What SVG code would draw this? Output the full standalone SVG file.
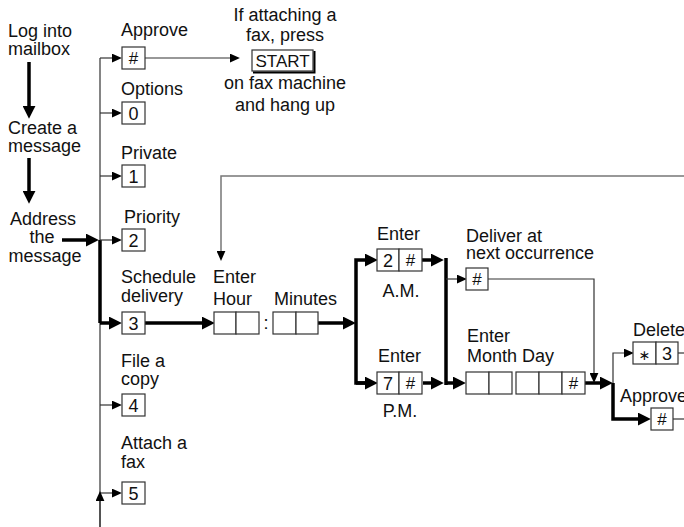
<svg xmlns="http://www.w3.org/2000/svg" width="684" height="527" viewBox="0 0 684 527">
<style>
.t{font-family:"Liberation Sans",Arial,sans-serif;font-size:18px;fill:#111}
.c{text-anchor:middle}
.k{font-family:"Liberation Sans",Arial,sans-serif;font-size:18px;fill:#111;text-anchor:middle}
.h{font-size:17px}
.box{fill:#fff;stroke:#333;stroke-width:1.2}
.thin{fill:none;stroke:#333;stroke-width:1.2}
.gray{fill:none;stroke:#777;stroke-width:1.5}
.thick{fill:none;stroke:#000;stroke-width:3.5;stroke-linejoin:miter}
.ta{marker-end:url(#ah)}
.tk{marker-end:url(#ak)}
</style>
<defs>
<marker id="ah" markerUnits="userSpaceOnUse" markerWidth="10" markerHeight="9" refX="1" refY="4" orient="auto" viewBox="0 0 9 8">
<path d="M0,0 L9,4 L0,8 z" fill="#000"/>
</marker>
<marker id="ak" markerUnits="userSpaceOnUse" markerWidth="13" markerHeight="13" refX="2" refY="6" orient="auto" viewBox="0 0 12 12">
<path d="M0,0 L12,6 L0,12 z" fill="#000"/>
</marker>
</defs>

<g id="connectors">
<path class="thin" d="M100,58 V527"/>
<path class="thick" d="M100,240 V323"/>
<path class="thin ta" d="M100,58 H113"/>
<path class="thin ta" d="M100,113 H113"/>
<path class="thin ta" d="M100,176 H113"/>
<path class="thin ta" d="M100,240 H113"/>
<path class="thin ta" d="M100,405 H113"/>
<path class="thin ta" d="M100,493 H113"/>
<path class="thin ta" d="M100,527 V500"/>
<path class="thin ta" d="M145,58 H231"/>
<path class="gray ta" d="M684,176 H221 V252"/>
<path class="thick tk" d="M29,62 V108"/>
<path class="thick tk" d="M29,158 V193"/>
<path class="thick tk" d="M62,240 H88"/>
<path class="thick tk" d="M100,323 H111"/>
<path class="thick tk" d="M145,323 H204"/>
<path class="thick tk" d="M318,323 H345"/>
<path class="thick tk" d="M367,383 H356 V260 H367"/>
<path class="thick tk" d="M356,383 H367"/>
<path class="thick tk" d="M422,260 H433"/>
<path class="thick" d="M446,258 V385"/>
<path class="thick tk" d="M423,383 H433"/>
<path class="thick tk" d="M446,383 H455"/>
<path class="thin ta" d="M446,279 H458"/>
<path class="thin ta" d="M488,279 H594 V374"/>
<path class="thick tk" d="M585,383 H602"/>
<path class="thick tk" d="M613,383 V419 H640"/>
<path class="thin ta" d="M613,383 V353 H625"/>
<path class="thin" d="M678,353 H684"/>
<path class="thin" d="M673,419 H684"/>
</g>

<g id="log-into-mailbox">
<text class="t" x="8" y="37">Log into</text>
<text class="t" x="8" y="55">mailbox</text>
</g>
<g id="create-message">
<text class="t" x="8" y="134">Create a</text>
<text class="t" x="8" y="152">message</text>
</g>
<g id="address-message">
<text class="t c" x="43" y="225">Address</text>
<text class="t c" x="42" y="243">the</text>
<text class="t c" x="45" y="262">message</text>
</g>

<g id="approve">
<text class="t" x="121" y="36">Approve</text>
<rect class="box" x="122" y="47" width="23" height="22"/>
<text class="k h" x="133.5" y="64">#</text>
</g>
<g id="fax-start">
<text class="t c" x="285" y="21">If attaching a</text>
<text class="t c" x="285" y="41">fax, press</text>
<rect class="box" x="252" y="50" width="61" height="21" stroke="#000"/>
<path d="M314.5,51 V72.5 H253" fill="none" stroke="#000" stroke-width="2"/>
<text class="k" x="282.5" y="67" style="font-size:17px">START</text>
<text class="t c" x="285" y="89">on fax machine</text>
<text class="t c" x="285" y="111">and hang up</text>
</g>
<g id="options">
<text class="t" x="121" y="95">Options</text>
<rect class="box" x="122" y="102" width="23" height="22"/>
<text class="k" x="133.5" y="120">0</text>
</g>
<g id="private">
<text class="t" x="121" y="159">Private</text>
<rect class="box" x="122" y="165" width="23" height="22"/>
<text class="k" x="133.5" y="183">1</text>
</g>
<g id="priority">
<text class="t" x="124" y="223">Priority</text>
<rect class="box" x="122" y="229" width="23" height="22"/>
<text class="k" x="133.5" y="247">2</text>
</g>
<g id="schedule-delivery">
<text class="t" x="121" y="283">Schedule</text>
<text class="t" x="121" y="302">delivery</text>
<rect class="box" x="122" y="312" width="23" height="22"/>
<text class="k" x="133.5" y="330">3</text>
</g>
<g id="file-copy">
<text class="t" x="121" y="367">File a</text>
<text class="t" x="121" y="385">copy</text>
<rect class="box" x="122" y="394" width="23" height="22"/>
<text class="k" x="133.5" y="412">4</text>
</g>
<g id="attach-fax">
<text class="t" x="121" y="449">Attach a</text>
<text class="t" x="121" y="468">fax</text>
<rect class="box" x="122" y="482" width="23" height="22"/>
<text class="k" x="133.5" y="500">5</text>
</g>

<g id="enter-hour-minutes">
<text class="t" x="213" y="283">Enter</text>
<text class="t" x="213" y="305">Hour</text>
<text class="t" x="274" y="305">Minutes</text>
<rect class="box" x="214" y="312" width="22" height="22"/>
<rect class="box" x="236" y="312" width="23" height="22"/>
<text class="k" x="266" y="329">:</text>
<rect class="box" x="273" y="312" width="23" height="22"/>
<rect class="box" x="296" y="312" width="22" height="22"/>
</g>

<g id="am">
<text class="t" x="377" y="240">Enter</text>
<rect class="box" x="377" y="249" width="22" height="22"/>
<rect class="box" x="399" y="249" width="23" height="22"/>
<text class="k" x="388" y="267">2</text>
<text class="k h" x="410.5" y="266">#</text>
<text class="t c" x="401" y="297">A.M.</text>
</g>
<g id="pm">
<text class="t" x="378" y="362">Enter</text>
<rect class="box" x="377" y="372" width="22" height="22"/>
<rect class="box" x="399" y="372" width="23" height="22"/>
<text class="k" x="388" y="390">7</text>
<text class="k h" x="410.5" y="389">#</text>
<text class="t c" x="400" y="417">P.M.</text>
</g>

<g id="deliver-next">
<text class="t" x="466" y="242">Deliver at</text>
<text class="t" x="466" y="259">next occurrence</text>
<rect class="box" x="466" y="268" width="22" height="22"/>
<text class="k h" x="477" y="285">#</text>
</g>

<g id="month-day">
<text class="t" x="467" y="342">Enter</text>
<text class="t" x="467" y="362">Month Day</text>
<rect class="box" x="466" y="372" width="23" height="22"/>
<rect class="box" x="489" y="372" width="23" height="22"/>
<rect class="box" x="516" y="372" width="23" height="22"/>
<rect class="box" x="539" y="372" width="23" height="22"/>
<rect class="box" x="562" y="372" width="23" height="22"/>
<text class="k h" x="573.5" y="389">#</text>
</g>

<g id="delete">
<text class="t" x="633" y="336">Delete</text>
<rect class="box" x="633" y="342" width="23" height="22"/>
<rect class="box" x="656" y="342" width="22" height="22"/>
<text class="k" x="644.5" y="360" style="font-family:'DejaVu Sans',sans-serif;font-size:14px">∗</text>
<text class="k" x="667" y="360">3</text>
</g>

<g id="approve-2">
<text class="t" x="620" y="402">Approve</text>
<rect class="box" x="651" y="408" width="22" height="22"/>
<text class="k h" x="662" y="425">#</text>
</g>
</svg>
